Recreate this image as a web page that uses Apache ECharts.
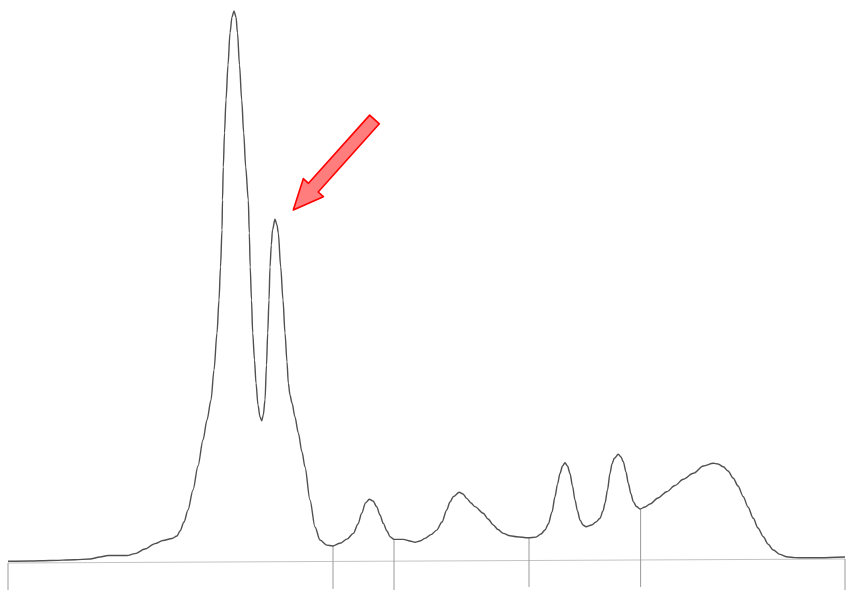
<!DOCTYPE html>
<html>
<head>
<meta charset="utf-8">
<script src="https://cdn.jsdelivr.net/npm/echarts@6/dist/echarts.min.js"></script>
<style>html,body{margin:0;padding:0;background:#fff;}#c{width:846px;height:590px;}</style>
</head>
<body>
<div id="c"></div>
<script>
// Retention time (min) and detector signal (arbitrary units)
var timeValues = [0.40,1.50,2.50,3.75,4.50,5.00,5.40,5.90,6.35,6.75,7.25,7.75,8.15,8.60,8.85,9.00,9.20,9.40,9.65,9.90,
10.15,10.35,10.55,10.70,10.85,10.95,11.025,11.10,11.125,11.165,11.225,11.30,11.40,11.50,11.60,11.70,11.80,11.875,11.975,12.085,
12.185,12.285,12.415,12.465,12.51,12.575,12.635,12.725,12.80,12.90,13.00,13.085,13.165,13.25,13.325,13.385,13.45,13.50,13.565,13.625,
13.75,13.85,13.915,14.035,14.15,14.25,14.35,14.415,14.50,14.60,14.75,14.915,15.10,15.25,15.50,15.75,16.00,16.335,16.635,17.00,
17.35,17.665,17.90,18.085,18.275,18.465,18.65,18.835,19.00,19.165,19.35,19.50,19.70,20.165,20.50,20.75,21.00,21.25,21.55,21.835,
22.10,22.335,22.50,22.665,22.965,23.15,23.335,23.55,23.75,24.165,24.40,24.665,24.90,25.165,25.50,25.835,26.415,26.80,27.05,27.25,
27.415,27.60,27.75,27.875,28.00,28.125,28.25,28.375,28.50,28.625,28.75,28.875,29.00,29.15,29.30,29.585,29.80,30.00,30.15,30.25,
30.375,30.50,30.60,30.715,30.915,31.05,31.165,31.30,31.415,31.55,31.665,31.825,32.00,32.25,32.50,32.90,33.335,33.75,34.165,34.665,
35.165,35.665,35.90,36.165,36.40,36.665,36.90,37.165,37.40,37.665,37.90,38.165,38.40,38.665,39.00,39.335,39.75,40.165,41.00,42.25];
var signalValues = [0.13,0.18,0.27,0.41,0.54,0.89,1.16,1.16,1.16,1.50,2.32,3.29,3.84,4.20,4.64,5.54,7.14,9.29,12.86,17.14,
21.79,25.36,28.93,34.29,40.89,46.79,52.68,59.29,64.64,70.54,76.61,82.50,88.75,94.46,97.32,98.39,97.32,94.46,88.75,82.50,
76.61,70.54,64.64,58.75,52.68,46.79,40.89,36.07,31.96,28.04,25.89,25.23,26.25,28.93,35.18,40.89,46.79,52.68,56.61,59.29,
61.20,60.18,58.75,52.68,46.79,40.89,35.71,31.96,29.82,28.39,25.89,23.04,19.64,16.96,11.07,6.25,3.93,3.02,2.86,3.34,
4.09,5.11,6.79,8.70,10.54,11.20,10.89,9.88,8.39,6.89,5.54,4.52,4.04,4.04,3.75,3.52,3.75,4.21,4.89,5.70,
7.14,9.29,10.71,11.66,12.45,12.14,11.36,10.54,9.88,8.70,7.68,6.61,5.80,5.11,4.68,4.50,4.32,4.45,5.00,5.71,
6.79,8.93,11.66,13.91,15.82,17.13,17.71,17.13,15.82,13.57,11.07,9.11,7.50,6.61,6.30,6.61,7.14,7.80,9.11,10.48,
12.86,15.84,17.50,18.52,19.23,18.75,17.89,16.07,14.05,12.14,10.77,9.91,9.46,9.82,10.36,11.43,12.55,13.66,14.77,15.84,
17.14,17.63,17.50,17.00,16.25,14.95,13.57,11.66,9.82,7.80,6.07,4.52,3.20,2.13,1.36,0.93,0.79,0.75,0.75,0.88];

// Baseline (slightly tilted chart paper line): [time, signal]
var baselineTimes = [0.40, 42.25];
var baselineSignals = [-0.18, 0.54];

// Integration / frame drop lines: time, top signal, bottom signal
var dropTimes   = [0.40, 16.65, 19.70, 26.45, 32.03, 42.25];
var dropTops    = [-0.18, 2.86, 4.04, 4.30, 9.46, 0.54];
var dropBottoms = [-5.0, -4.8, -5.0, -4.46, -4.46, -5.0];

// Annotation arrow: tail (time, signal) -> tip (time, signal)
var arrowTail = [18.725, 79.02];
var arrowTip  = [14.665, 62.86];

var curveData = timeValues.map(function(t, i){ return [t, signalValues[i]]; });
var baselineData = baselineTimes.map(function(t, i){ return [t, baselineSignals[i]]; });
var dropData = dropTimes.map(function(t, i){ return [t, dropTops[i], dropBottoms[i]]; });

var chart = echarts.init(document.getElementById('c'), null, {renderer: 'canvas'});
chart.setOption({
  backgroundColor: '#ffffff',
  animation: false,
  grid: {left: 0, right: 0, top: 2, bottom: 0, containLabel: false},
  xAxis: {type: 'value', min: 0, max: 42.3, show: false, splitLine: {show: false}},
  yAxis: {type: 'value', min: -5, max: 100, show: false, splitLine: {show: false}},
  series: [
    {
      type: 'line', data: baselineData, symbol: 'none', silent: true,
      lineStyle: {color: '#c4c4c4', width: 1.2}, z: 1
    },
    {
      type: 'custom', data: dropData, silent: true, z: 2,
      encode: {x: 0, y: [1, 2]},
      renderItem: function(params, api){
        var a = api.coord([api.value(0), api.value(1)]);
        var b = api.coord([api.value(0), api.value(2)]);
        return {type: 'line', shape: {x1: a[0], y1: a[1], x2: b[0], y2: b[1]},
          style: {stroke: '#9a9a9a', lineWidth: 1}};
      }
    },
    {
      type: 'line', data: curveData, symbol: 'none', silent: true,
      smooth: 0.3, smoothMonotone: 'x',
      lineStyle: {color: '#505050', width: 1.4}, z: 3
    },
    {
      type: 'custom', data: [[arrowTail[0], arrowTail[1], arrowTip[0], arrowTip[1]]], silent: true, z: 4,
      encode: {x: [0, 2], y: [1, 3]},
      renderItem: function(params, api){
        var a = api.coord([api.value(0), api.value(1)]);
        var b = api.coord([api.value(2), api.value(3)]);
        var dx = b[0]-a[0], dy = b[1]-a[1], L = Math.sqrt(dx*dx+dy*dy);
        var ux = dx/L, uy = dy/L, nx = -uy, ny = ux;
        var hw = 6.5, hh = 13.5, hl = 30;
        var bx = b[0]-ux*hl, by = b[1]-uy*hl;
        var pts = [[a[0]+nx*hw, a[1]+ny*hw], [bx+nx*hw, by+ny*hw], [bx+nx*hh, by+ny*hh], [b[0], b[1]],
                   [bx-nx*hh, by-ny*hh], [bx-nx*hw, by-ny*hw], [a[0]-nx*hw, a[1]-ny*hw]];
        return {type: 'polygon', shape: {points: pts},
          style: {fill: '#ff7d7d', stroke: '#ff0000', lineWidth: 1.6, lineJoin: 'round'}};
      }
    }
  ]
});
</script>
</body>
</html>
